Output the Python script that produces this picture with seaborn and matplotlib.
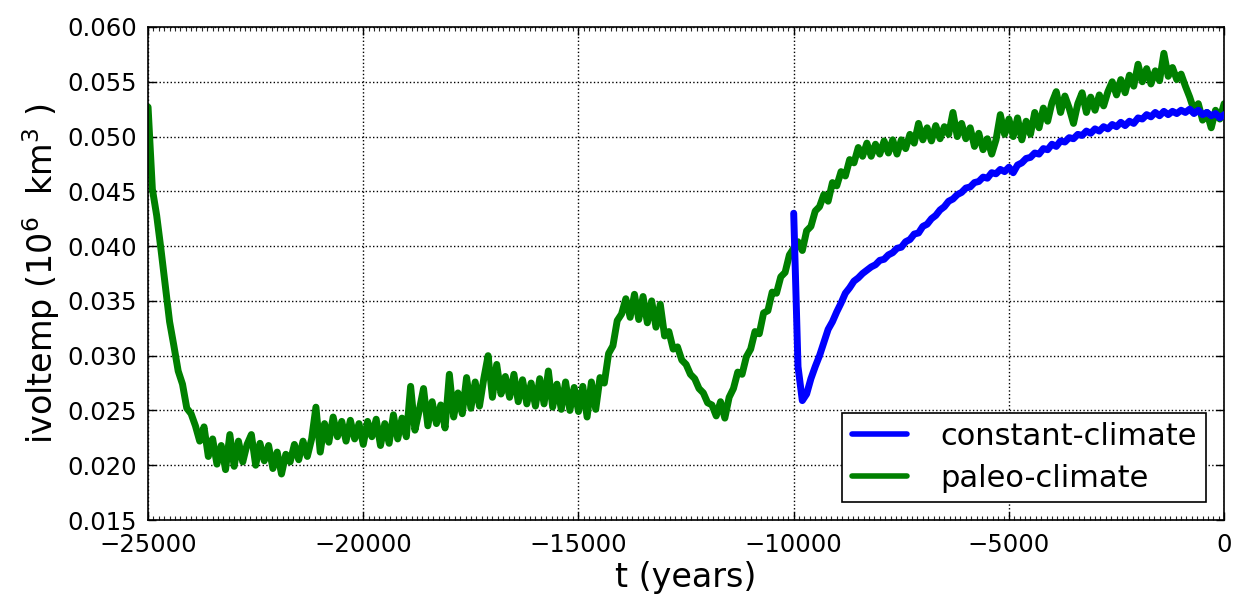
import matplotlib
matplotlib.use("Agg")
import matplotlib.pyplot as plt
import numpy as np
import seaborn as sns
from matplotlib.ticker import FormatStrFormatter, MultipleLocator

# time axis (years before present), 100-year sampling
t_paleo = np.arange(-25000, 1, 100)
t_const = np.arange(-10000, 1, 100)

# ice volume (10^6 km^3)
ivol_paleo = [
    # -25000 .. -24000
    0.0527, 0.0452, 0.0428, 0.0397, 0.0364, 0.0331, 0.0309, 0.0286, 0.0274, 0.0252, 0.0247,
    # -23900 .. -21200
    0.0236, 0.0222, 0.0235, 0.0208, 0.0224, 0.0201, 0.0218, 0.0196, 0.0228, 0.0199,
    0.0222, 0.0203, 0.0219, 0.0228, 0.0200, 0.0220, 0.0204, 0.0218, 0.0197, 0.0212,
    0.0192, 0.0210, 0.0203, 0.0219, 0.0205, 0.0222, 0.0208, 0.0224,
    # -21100 .. -19600
    0.0253, 0.0212, 0.0238, 0.0221, 0.0244, 0.0226, 0.0240, 0.0222, 0.0241, 0.0224,
    0.0238, 0.0219, 0.0240, 0.0226, 0.0242, 0.0218,
    # -19500 .. -15100
    0.0238, 0.0220, 0.0246, 0.0224, 0.0243, 0.0226, 0.0272, 0.0232, 0.0250, 0.0270,
    0.0236, 0.0258, 0.0238, 0.0255, 0.0234, 0.0283, 0.0244, 0.0266, 0.0247, 0.0280,
    0.0252, 0.0276, 0.0254, 0.0279, 0.0300, 0.0262, 0.0292, 0.0265, 0.0281, 0.0262,
    0.0283, 0.0258, 0.0278, 0.0256, 0.0275, 0.0254, 0.0279, 0.0256, 0.0286, 0.0253,
    0.0274, 0.0251, 0.0276, 0.0250, 0.0271,
    # -15000 .. -10000
    0.0249, 0.0272, 0.0244, 0.0276, 0.0251, 0.0280, 0.0275, 0.0302, 0.0309, 0.0332,
    0.0338, 0.0352, 0.0335, 0.0356, 0.0333, 0.0354, 0.0330, 0.0350, 0.0326, 0.0347,
    0.0318, 0.0322, 0.0306, 0.0308, 0.0296, 0.0292, 0.0283, 0.0279, 0.0270, 0.0266,
    0.0257, 0.0255, 0.0245, 0.0258, 0.0243, 0.0262, 0.0270, 0.0285, 0.0283, 0.0299,
    0.0306, 0.0322, 0.0320, 0.0339, 0.0341, 0.0358, 0.0357, 0.0372, 0.0376, 0.0392,
    0.0398,
    # -9900 .. -5000
    0.0404, 0.0396, 0.0414, 0.0418, 0.0432, 0.0436, 0.0447, 0.0441, 0.0458, 0.0455,
    0.0468, 0.0464, 0.0479, 0.0476, 0.0490, 0.0482, 0.0494, 0.0482, 0.0493, 0.0484,
    0.0496, 0.0485, 0.0497, 0.0484, 0.0497, 0.0489, 0.0502, 0.0494, 0.0512, 0.0497,
    0.0508, 0.0496, 0.0510, 0.0498, 0.0509, 0.0502, 0.0522, 0.0500, 0.0512, 0.0498,
    0.0508, 0.0491, 0.0503, 0.0488, 0.0498, 0.0484, 0.0497, 0.0520, 0.0502, 0.0516,
    # -4900 .. 0
    0.0500, 0.0517, 0.0497, 0.0514, 0.0502, 0.0522, 0.0508, 0.0526, 0.0514, 0.0531,
    0.0541, 0.0522, 0.0537, 0.0526, 0.0512, 0.0530, 0.0540, 0.0522, 0.0536, 0.0524,
    0.0538, 0.0528, 0.0541, 0.0550, 0.0538, 0.0552, 0.0540, 0.0556, 0.0546, 0.0566,
    0.0550, 0.0562, 0.0548, 0.0560, 0.0551, 0.0576, 0.0555, 0.0563, 0.0552, 0.0557,
    0.0546, 0.0536, 0.0524, 0.0530, 0.0515, 0.0522, 0.0508, 0.0524, 0.0516, 0.0530,
]

ivol_const = [
    # -10000 .. -5000
    0.0430, 0.0290, 0.0259, 0.0265, 0.0279, 0.0290, 0.0300, 0.0312, 0.0324, 0.0331,
    0.0340, 0.0348, 0.0357, 0.0362, 0.0368, 0.0371, 0.0375, 0.0378, 0.0381, 0.0383,
    0.0387, 0.0388, 0.0392, 0.0394, 0.0398, 0.0399, 0.0404, 0.0406, 0.0411, 0.0412,
    0.0418, 0.0420, 0.0425, 0.0428, 0.0433, 0.0436, 0.0441, 0.0443, 0.0447, 0.0449,
    0.0453, 0.0454, 0.0458, 0.0459, 0.0463, 0.0462, 0.0467, 0.0466, 0.0470, 0.0468,
    0.0472,
    # -4900 .. 0
    0.0467, 0.0474, 0.0476, 0.0480, 0.0481, 0.0485, 0.0484, 0.0489, 0.0488, 0.0493,
    0.0491, 0.0496, 0.0495, 0.0499, 0.0498, 0.0502, 0.0501, 0.0505, 0.0503, 0.0507,
    0.0505, 0.0509, 0.0507, 0.0511, 0.0509, 0.0513, 0.0510, 0.0514, 0.0512, 0.0517,
    0.0516, 0.0520, 0.0518, 0.0522, 0.0519, 0.0523, 0.0520, 0.0523, 0.0521, 0.0524,
    0.0522, 0.0525, 0.0521, 0.0524, 0.0520, 0.0522, 0.0519, 0.0521, 0.0517, 0.0520,
]

assert len(ivol_paleo) == len(t_paleo)
assert len(ivol_const) == len(t_const)

sns.set_style("white")
plt.rcParams["font.family"] = ["DejaVu Sans"]
plt.rcParams["mathtext.fontset"] = "dejavusans"
plt.rcParams["text.color"] = "black"
plt.rcParams["axes.labelcolor"] = "black"

fig = plt.figure(figsize=(12.39, 5.96), dpi=100)
ax = fig.add_axes([0.1195, 0.1275, 0.8685, 0.8272])

sns.lineplot(x=t_const, y=ivol_const, ax=ax, color="#0000ff", lw=5,
             label="constant-climate", zorder=3)
sns.lineplot(x=t_paleo, y=ivol_paleo, ax=ax, color="#008000", lw=5,
             label="paleo-climate", zorder=2)

ax.set_xlim(-25000, 0)
ax.set_ylim(0.015, 0.060)
ax.xaxis.set_major_locator(MultipleLocator(5000))
ax.xaxis.set_minor_locator(MultipleLocator(125))
ax.yaxis.set_major_locator(MultipleLocator(0.005))
ax.yaxis.set_major_formatter(FormatStrFormatter("%.3f"))

ax.grid(True, which="major", color="black", linestyle=":", linewidth=1)
ax.tick_params(which="major", direction="in", length=6, width=1,
               top=True, right=True, bottom=True, left=True, labelsize=17.5,
               colors="black")
ax.tick_params(axis="x", which="major", pad=9)
ax.tick_params(axis="y", which="major", pad=8)
ax.tick_params(which="minor", direction="in", length=3, width=0.8,
               top=True, bottom=True)
for sp in ax.spines.values():
    sp.set_visible(True)
    sp.set_color("black")
    sp.set_linewidth(1.2)

ax.set_xlabel("t (years)", fontsize=24, labelpad=3)
ax.set_ylabel(r"ivoltemp ($10^6$  km$^3$ )", fontsize=24, labelpad=4)

leg = ax.legend(loc="lower right", fontsize=22, frameon=True, fancybox=False,
                framealpha=1, edgecolor="black", handlelength=1.8,
                handletextpad=1.1, borderpad=0.3, labelspacing=0.42,
                borderaxespad=0.6)
leg.get_frame().set_linewidth(1.2)
for line in leg.get_lines():
    line.set_linewidth(4)

fig.savefig("out.png", dpi=100)
